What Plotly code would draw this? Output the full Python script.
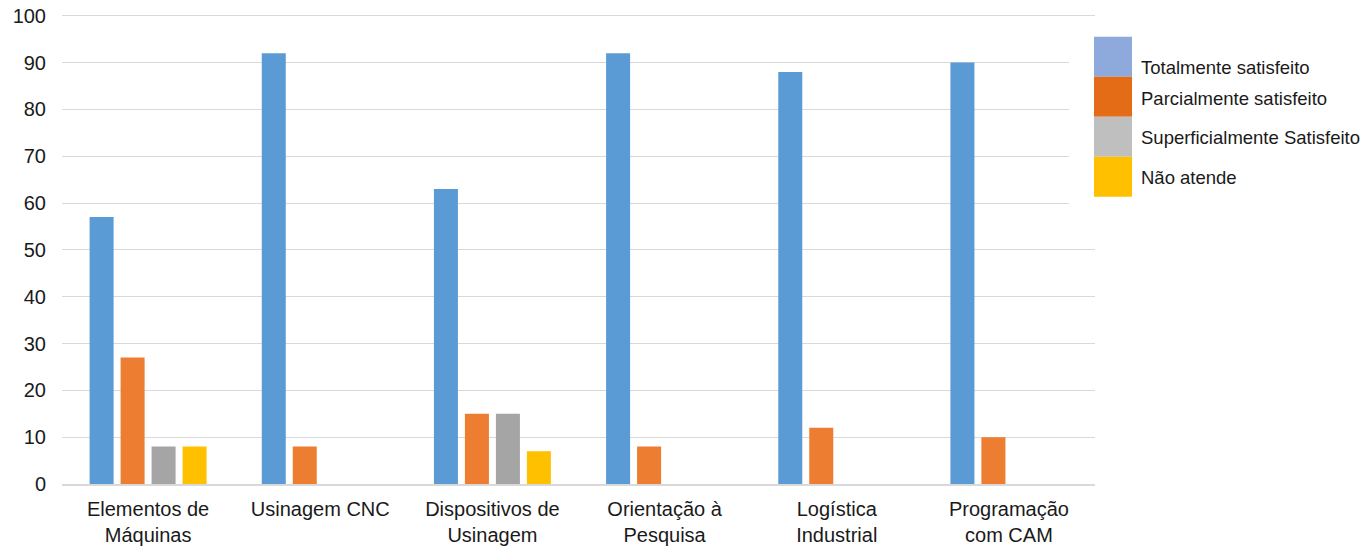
import plotly.graph_objects as go

categories = ["Elementos de<br>Máquinas", "Usinagem CNC", "Dispositivos de<br>Usinagem",
              "Orientação à<br>Pesquisa", "Logística<br>Industrial", "Programação<br>com CAM"]
series_names = ["Totalmente satisfeito", "Parcialmente satisfeito",
                "Superficialmente Satisfeito", "Não atende"]
totalmente = [57, 92, 63, 92, 88, 90]
parcialmente = [27, 8, 15, 8, 12, 10]
superficialmente = [8, 0, 15, 0, 0, 0]
nao_atende = [8, 0, 7, 0, 0, 0]
y_ticks = list(range(0, 101, 10))

bar_colors = ["#5B9BD5", "#ED7D31", "#A5A5A5", "#FFC000"]
legend_colors = ["#8EA9DB", "#E46C16", "#BFBFBF", "#FFC000"]

W, H = 1368, 548
Y_MAX = 101
L, R, B = 62, 273, 64
T = 484 - Y_MAX * 4.68
pw, ph = W - L - R, H - T - B


def px_x(x):
    return (x - L) / pw


def px_y(y):
    return 1 - (y - T) / ph


fig = go.Figure()
for name, vals, col in zip(series_names, [totalmente, parcialmente, superficialmente, nao_atende], bar_colors):
    fig.add_trace(go.Bar(x=categories, y=vals, name=name, marker=dict(color=col, line=dict(width=0)),
                         showlegend=False))

shapes = []
annotations = []
# white box behind the legend covering gridlines
shapes.append(dict(type="rect", xref="paper", yref="paper", layer="above",
                   x0=px_x(1069), x1=px_x(1368), y0=px_y(207), y1=px_y(27),
                   fillcolor="white", line=dict(width=0)))
text_y = [68, 99, 138, 178]
for i, (name, col) in enumerate(zip(series_names, legend_colors)):
    top = 37 + 40 * i
    shapes.append(dict(type="rect", xref="paper", yref="paper", layer="above",
                       x0=px_x(1094), x1=px_x(1132), y0=px_y(top + 40), y1=px_y(top),
                       fillcolor=col, line=dict(width=0)))
    annotations.append(dict(xref="paper", yref="paper", x=px_x(1139), y=px_y(text_y[i]),
                            xanchor="left", yanchor="middle", text=name, showarrow=False,
                            font=dict(size=18.5, color="#1a1a1a", family="Liberation Sans")))

fig.update_layout(
    width=W, height=H,
    margin=dict(l=L, r=R, t=T, b=B, autoexpand=False),
    paper_bgcolor="white", plot_bgcolor="white",
    font=dict(family="Liberation Sans", size=20, color="#1a1a1a"),
    barmode="group", bargap=0.28, bargroupgap=0.225,
    xaxis=dict(showgrid=False, showline=True, linecolor="#D9D9D9", linewidth=1.5,
               ticks="", tickfont=dict(size=20), ticklabelstandoff=6, automargin=False),
    yaxis=dict(range=[0, Y_MAX], tickvals=y_ticks, showgrid=True, gridcolor="#D9D9D9",
               gridwidth=1.2, zeroline=False, ticks="", tickfont=dict(size=20),
               ticklabelstandoff=15, automargin=False, ticklabeloverflow="allow"),
    shapes=shapes, annotations=annotations, showlegend=False,
)

# drop the default body margin so the figure sits at the page's top-left corner
fig.write_html("out.html", config={"displayModeBar": False},
               post_script="document.body.style.margin = '0';")
